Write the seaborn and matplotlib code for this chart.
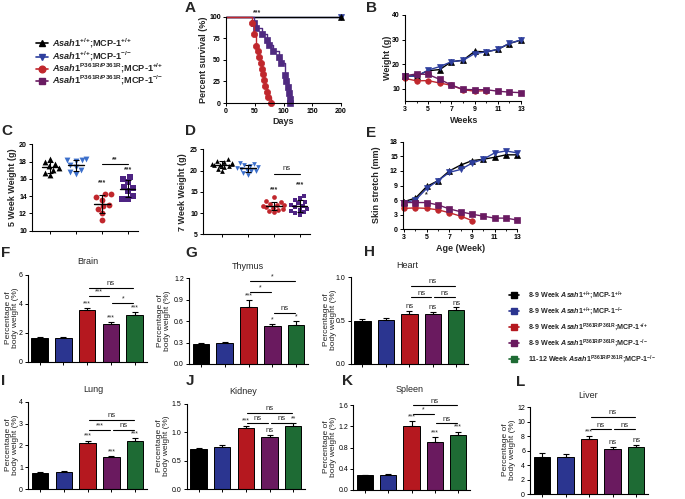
import numpy as np
import pandas as pd
import matplotlib
matplotlib.use("Agg")
import matplotlib.pyplot as plt
import seaborn as sns

# ---------------- data ----------------
# A: Kaplan-Meier survival (days, % survival)
surv_days_wt = [0, 200]
surv_wt = [100, 100]
surv_days_mut = [0, 46, 49, 53, 55, 58, 60, 62, 64, 66, 68, 71, 73, 78]
surv_mut = [100, 93.3, 80, 66.7, 60, 53.3, 46.7, 40, 33.3, 26.7, 20, 13.3, 6.7, 0]
surv_days_dko = [0, 48, 53, 62, 71, 75, 81, 93, 96, 102, 105, 107, 110, 111, 112]
surv_dko = [100, 93, 87, 80, 73, 67, 60, 53, 46, 33, 26, 19, 12, 5, 0]

# B: body weight (g) by week
weeks_B = [3, 4, 5, 6, 7, 8, 9, 10, 11, 12, 13]
wB_wt = [15.0, 15.3, 17.3, 17.8, 21.0, 21.6, 25.2, 25.0, 26.0, 28.4, 29.8]
wB_ko = [15.2, 15.0, 17.6, 19.0, 21.0, 21.5, 24.3, 25.0, 26.0, 28.5, 29.8]
weeks_B_mut = [3, 4, 5, 6, 7, 8, 9, 10]
wB_mut = [14.2, 13.2, 13.3, 12.3, 11.4, 9.6, 9.0, 9.2]
wB_dko = [15.3, 16.0, 15.8, 13.8, 11.5, 9.7, 9.6, 9.6, 9.0, 8.6, 8.4]

# E: skin stretch (mm) by week
weeks_E = [3, 4, 5, 6, 7, 8, 9, 10, 11, 12, 13]
sE_wt = [5.7, 6.4, 8.8, 10.0, 12.0, 13.2, 14.1, 14.4, 14.8, 15.3, 15.3]
sE_ko = [5.5, 6.0, 8.4, 10.0, 11.7, 12.3, 13.6, 14.4, 15.7, 16.1, 15.7]
weeks_E_mut = [3, 4, 5, 6, 7, 8, 9]
sE_mut = [4.3, 4.4, 4.3, 4.0, 3.4, 2.7, 1.8]
sE_dko = [5.5, 5.5, 5.5, 5.0, 4.2, 3.6, 3.1, 2.7, 2.3, 2.3, 1.9]

# C: 5-week weight (g) individual animals
c_wt = [18.3, 18.0, 17.7, 17.5, 17.2, 17.0, 16.7, 16.4]
c_ko = [18.3, 18.2, 18.2, 18.1, 17.6, 17.4, 17.0, 16.8, 16.6]
c_mut = [14.3, 14.2, 13.9, 13.6, 13.0, 12.9, 12.5, 12.0, 11.2]
c_dko = [16.2, 16.0, 15.6, 15.1, 14.9, 14.6, 14.0, 13.7, 13.7]

# D: 7-week weight (g) individual animals
d_wt = [22.8, 22.3, 22.0, 21.8, 21.6, 21.5, 21.4, 21.2, 21.0, 20.8, 20.4, 19.8]
d_ko = [21.8, 21.6, 21.2, 21.0, 20.8, 20.6, 20.4, 20.2, 20.0, 19.8, 19.4, 19.0]
d_mut = [13.8, 12.8, 12.5, 12.2, 12.0, 11.8, 11.7, 11.5, 11.3, 11.0, 10.8, 10.6, 10.2]
d_dko = [14.0, 13.6, 13.0, 12.6, 12.3, 12.0, 11.7, 11.4, 11.0, 10.8, 10.5, 10.2, 9.9, 9.6]

# F-L: organ weight as % of body weight (mean, SEM)
organ_groups = ["WT", "KO", "Mut", "DKO", "DKO 11-12"]
brain_mean = [1.65, 1.65, 3.55, 2.62, 3.25]
brain_sem = [0.07, 0.07, 0.18, 0.10, 0.18]
thymus_mean = [0.28, 0.29, 0.80, 0.53, 0.54]
thymus_sem = [0.02, 0.02, 0.09, 0.03, 0.06]
heart_mean = [0.50, 0.51, 0.57, 0.58, 0.62]
heart_sem = [0.02, 0.02, 0.04, 0.02, 0.03]
lung_mean = [0.75, 0.78, 2.10, 1.45, 2.22]
lung_sem = [0.05, 0.04, 0.12, 0.06, 0.12]
kidney_mean = [0.70, 0.74, 1.07, 0.91, 1.12]
kidney_sem = [0.03, 0.04, 0.05, 0.04, 0.04]
spleen_mean = [0.28, 0.29, 1.21, 0.90, 1.04]
spleen_sem = [0.01, 0.02, 0.08, 0.09, 0.06]
liver_mean = [5.2, 5.15, 7.65, 6.3, 6.5]
liver_sem = [0.5, 0.35, 0.35, 0.25, 0.35]

# significance labels above bars and brackets (i, j, label)
brain_stars = ["", "", "***", "***", "***"]
brain_brk = [(2, 4, "ns"), (2, 3, "***"), (3, 4, "*")]
thymus_stars = ["", "", "***", "*", "*"]
thymus_brk = [(2, 4, "*"), (2, 3, "*"), (3, 4, "ns")]
heart_stars = ["", "", "ns", "ns", "ns"]
heart_brk = [(2, 4, "ns"), (2, 3, "ns"), (3, 4, "ns")]
lung_stars = ["", "", "***", "***", "***"]
lung_brk = [(2, 4, "ns"), (2, 3, "***"), (3, 4, "ns")]
kidney_stars = ["", "", "***", "ns", "**"]
kidney_brk = [(2, 4, "ns"), (2, 3, "ns"), (3, 4, "ns")]
spleen_stars = ["", "", "***", "***", "***"]
spleen_brk = [(2, 4, "ns"), (2, 3, "*"), (3, 4, "ns")]
liver_stars = ["", "", "***", "ns", "ns"]
liver_brk = [(2, 4, "ns"), (2, 3, "ns"), (3, 4, "ns")]

# ---------------- style ----------------
sns.set_theme(style="ticks")
plt.rcParams.update({
    "font.family": ["Liberation Sans", "DejaVu Sans"],
    "mathtext.fontset": "custom",
    "mathtext.rm": "Liberation Sans:bold",
    "mathtext.it": "Liberation Sans:bold:italic",
    "mathtext.bf": "Liberation Sans:bold",
    "axes.linewidth": 0.8,
    "axes.edgecolor": "black",
    "xtick.color": "black",
    "ytick.color": "black",
})

W, H = 685, 499
fig = plt.figure(figsize=(W / 100, H / 100), dpi=100)
fig.patch.set_facecolor("white")

BLACK = "#000000"
L_BLUE = "#2E3F9E"
L_RED = "#C0272D"
L_PURPLE = "#6A1B62"
A_PURPLE = "#4F2A80"
S_BLUE = "#3C6FCB"
S_RED = "#C1272D"
S_PURPLE = "#4E2483"
BAR_COLORS = ["#000000", "#2B3590", "#B5181F", "#6A1A5F", "#1E6B34"]


def px_axes(x0, y0, x1, y1):
    return fig.add_axes([x0 / W, 1 - y1 / H, (x1 - x0) / W, (y1 - y0) / H])


lax = fig.add_axes([0, 0, 1, 1], zorder=20)
lax.set_xlim(0, W)
lax.set_ylim(H, 0)
lax.axis("off")
lax.patch.set_alpha(0)


def T(x, y, s, **kw):
    kw.setdefault("ha", "center")
    kw.setdefault("va", "center")
    lax.text(x, y, s, **kw)


def set_ticks(ax, xt, yt, xl=None, yl=None, bold=True, fs=5):
    wt = "bold" if bold else "normal"
    ax.set_xticks(xt, labels=(xl if xl is not None else [""] * len(xt)),
                  fontsize=fs, fontweight=wt)
    ax.set_yticks(yt, labels=(yl if yl is not None else [str(v) for v in yt]),
                  fontsize=fs, fontweight=wt)
    ax.tick_params(axis="both", which="major", length=2.5, width=0.7, pad=1.2)
    ax.tick_params(axis="both", which="minor", length=1.5, width=0.6)
    ax.set_xlabel("")
    ax.set_ylabel("")
    sns.despine(ax=ax)
    ax.set_facecolor("none")


def line(ax, x, y, color, marker, ms=4, **kw):
    sns.lineplot(x=x, y=y, color=color, lw=1, marker=marker, ms=ms,
                 mec=color, mew=0.5, ax=ax, estimator=None, clip_on=False, **kw)


# ---------------- A ----------------
axA = px_axes(226, 17, 341, 103)
line(axA, surv_days_wt, surv_wt, L_BLUE, "v", ms=4.5, markevery=[1])
line(axA, surv_days_wt, surv_wt, BLACK, "^", ms=4.5, markevery=[1])
line(axA, surv_days_dko, surv_dko, A_PURPLE, "s", ms=4.2,
     markevery=list(range(1, len(surv_days_dko))), drawstyle="steps-post")
line(axA, surv_days_mut, surv_mut, L_RED, "o", ms=4.5,
     markevery=list(range(1, len(surv_days_mut))), drawstyle="steps-post")
axA.set_xlim(0, 200)
axA.set_ylim(0, 100)
set_ticks(axA, [0, 50, 100, 150, 200], [0, 25, 50, 75, 100],
          xl=["0", "50", "100", "150", "200"])
axA.text(54, 100.5, "***", fontsize=5, fontweight="bold", ha="center", va="bottom")

# ---------------- B ----------------
axB = px_axes(405, 15, 521, 101)
line(axB, weeks_B, wB_wt, BLACK, "^")
line(axB, weeks_B, wB_ko, L_BLUE, "v")
line(axB, weeks_B_mut, wB_mut, L_RED, "o")
line(axB, weeks_B, wB_dko, L_PURPLE, "s", ms=3.8)
axB.set_xlim(3, 13)
axB.set_ylim(5, 40)
set_ticks(axB, [3, 5, 7, 9, 11, 13], [10, 20, 30, 40],
          xl=["3", "5", "7", "9", "11", "13"])
axB.set_xticks([4, 6, 8, 10, 12], minor=True)

# ---------------- E ----------------
axE = px_axes(403, 141.7, 517.3, 229.3)
line(axE, weeks_E, sE_wt, BLACK, "^")
line(axE, weeks_E, sE_ko, L_BLUE, "v")
line(axE, weeks_E_mut, sE_mut, L_RED, "o")
line(axE, weeks_E, sE_dko, L_PURPLE, "s", ms=3.8)
axE.set_xlim(2.9, 13)
axE.set_ylim(0, 18)
set_ticks(axE, [3, 5, 7, 9, 11, 13], [0, 3, 6, 9, 12, 15, 18],
          xl=["3", "5", "7", "9", "11", "13"])
axE.set_xticks([4, 6, 8, 10, 12], minor=True)
axE.text(5, 6.3, "*", fontsize=5, fontweight="bold", ha="center", va="bottom")


# ---------------- C & D scatter ----------------
def scatter_panel(ax, groups_vals, colors, markers, size):
    cats = ["a", "b", "c", "d"]
    for k, (vals, col, mk) in enumerate(zip(groups_vals, colors, markers)):
        df = pd.DataFrame({"g": [cats[k]] * len(vals), "v": vals})
        sns.swarmplot(data=df, x="g", y="v", order=cats, color=col, marker=mk,
                      size=size, ax=ax, linewidth=0, zorder=2)
        m = np.mean(vals)
        sd = np.std(vals, ddof=1)
        ax.plot([k - 0.3, k + 0.3], [m, m], color="black", lw=1, zorder=3)
        ax.errorbar([k], [m], yerr=[sd], fmt="none", ecolor="black",
                    elinewidth=0.8, capsize=2.2, capthick=0.8, zorder=3)


axC = px_axes(32, 144.3, 138, 230.7)
scatter_panel(axC, [c_wt, c_ko, c_mut, c_dko], [BLACK, S_BLUE, S_RED, S_PURPLE],
              ["^", "v", "o", "s"], 4.2)
axC.set_xlim(-0.7, 3.4)
axC.set_ylim(10, 20)
set_ticks(axC, [0, 1, 2, 3], [10, 12, 14, 16, 18, 20])
axC.text(2, 15.2, "***", fontsize=5, fontweight="bold", ha="center", va="bottom")
axC.text(3, 16.65, "***", fontsize=5, fontweight="bold", ha="center", va="bottom")
axC.plot([2, 3], [17.7, 17.7], color="black", lw=0.8)
axC.text(2.5, 17.8, "**", fontsize=5, fontweight="bold", ha="center", va="bottom")

axD = px_axes(203, 149.3, 310, 234.3)
scatter_panel(axD, [d_wt, d_ko, d_mut, d_dko], [BLACK, S_BLUE, S_RED, S_PURPLE],
              ["^", "v", "o", "s"], 3.4)
axD.set_xlim(-0.73, 3.4)
axD.set_ylim(5, 25)
set_ticks(axD, [0, 1, 2, 3], [5, 10, 15, 20, 25])
axD.text(2, 14.6, "***", fontsize=5, fontweight="bold", ha="center", va="bottom")
axD.text(3, 15.8, "***", fontsize=5, fontweight="bold", ha="center", va="bottom")
axD.plot([2, 3], [19.3, 19.3], color="black", lw=0.8)
axD.text(2.5, 19.6, "ns", fontsize=5.5, ha="center", va="bottom")


# ---------------- bar panels ----------------
def bar_panel(rect, means, sems, ylim, yticks, ylabels, stars, brackets, levels):
    ax = px_axes(*rect)
    df = pd.DataFrame({"g": organ_groups, "v": means})
    sns.barplot(data=df, x="g", y="v", hue="g", order=organ_groups,
                hue_order=organ_groups, palette=dict(zip(organ_groups, BAR_COLORS)),
                legend=False, width=0.7, edgecolor="black", linewidth=0.7,
                errorbar=None, saturation=1, ax=ax)
    x = np.arange(len(means))
    ax.errorbar(x, means, yerr=[np.zeros(len(sems)), sems], fmt="none",
                ecolor="black", elinewidth=0.8, capsize=2.2, capthick=0.8, zorder=5)
    ax.set_xlim(-0.5, 4.5)
    ax.set_ylim(*ylim)
    set_ticks(ax, list(x), yticks, yl=ylabels, bold=False, fs=5)
    for i, s in enumerate(stars):
        if s:
            ax.annotate(s, (i, means[i] + sems[i]), xytext=(0, 0.5),
                        textcoords="offset points", ha="center", va="bottom",
                        fontsize=5.5 if s == "ns" else 5, annotation_clip=False)
    for (i, j, s), yv in zip(brackets, levels):
        ax.plot([i + 0.06, j - 0.06], [yv, yv], color="black", lw=0.8, clip_on=False)
        ax.annotate(s, ((i + j) / 2, yv), xytext=(0, 0.3), textcoords="offset points",
                    ha="center", va="bottom", fontsize=5.5 if s == "ns" else 5,
                    annotation_clip=False)
    return ax


bar_panel((27.6, 274.5, 146.6, 362), brain_mean, brain_sem, (0, 6), [0, 2, 4, 6], None,
          brain_stars, brain_brk, [5.1, 4.55, 4.05])
bar_panel((189, 278.3, 308, 364), thymus_mean, thymus_sem, (0, 1.2),
          [0, 0.3, 0.6, 0.9, 1.2], ["0.0", "0.3", "0.6", "0.9", "1.2"],
          thymus_stars, thymus_brk, [1.16, 1.01, 0.72])
bar_panel((350.7, 277, 468, 364), heart_mean, heart_sem, (0, 1.0),
          [0, 0.5, 1.0], ["0.0", "0.5", "1.0"],
          heart_stars, heart_brk, [0.9, 0.77, 0.77])
bar_panel((28.2, 401.7, 147, 489), lung_mean, lung_sem, (0, 4), [0, 1, 2, 3, 4], None,
          lung_stars, lung_brk, [3.17, 2.72, 2.72])
bar_panel((186.7, 404, 305, 489), kidney_mean, kidney_sem, (0, 1.5),
          [0, 0.5, 1.0, 1.5], ["0.0", "0.5", "1.0", "1.5"],
          kidney_stars, kidney_brk, [1.35, 1.17, 1.17])
bar_panel((353.3, 405, 470, 490), spleen_mean, spleen_sem, (0, 1.6),
          [0, 0.4, 0.8, 1.2, 1.6], ["0.0", "0.4", "0.8", "1.2", "1.6"],
          spleen_stars, spleen_brk, [1.6, 1.43, 1.26])
bar_panel((530.2, 407.3, 648, 494.3), liver_mean, liver_sem, (0, 12),
          [0, 2, 4, 6, 8, 10, 12], None,
          liver_stars, liver_brk, [10.7, 9.0, 9.0])

# ---------------- axis labels / titles ----------------
bk = dict(fontsize=6.5, fontweight="bold")
T(204, 60, "Percent survival (%)", rotation=90, **bk)
T(283, 121, "Days", **bk)
T(388, 58, "Weight (g)", rotation=90, **bk)
T(464, 120, "Weeks", **bk)
T(12.5, 187, "5 Week Weight (g)", rotation=90, **bk)
T(183, 192, "7 Week Weight (g)", rotation=90, **bk)
T(377, 185, "Skin stretch (mm)", rotation=90, **bk)
T(461, 248, "Age (Week)", **bk)

pl = dict(fontsize=6)
ylab = "Percentage of\nbody weight (%)"
for (x, y) in [(12, 318), (164, 321), (330, 320), (12, 445), (163, 446), (330, 447), (509, 450)]:
    T(x, y, ylab, rotation=90, linespacing=1.1, **pl)

for (x, y, s) in [(88, 261.7, "Brain"), (248, 266.7, "Thymus"), (407, 265, "Heart"),
                  (93, 390, "Lung"), (243, 391.7, "Kidney"), (410, 390, "Spleen"),
                  (588, 395, "Liver")]:
    T(x, y, s, fontsize=6.5)

for (x, y, s) in [(185, 8, "A"), (366, 8, "B"), (1, 131, "C"), (185, 131, "D"),
                  (366, 133, "E"), (1, 253, "F"), (185, 253, "G"), (364, 252, "H"),
                  (1, 381, "I"), (186, 381, "J"), (342, 381, "K"), (516, 382, "L")]:
    T(x, y, s, fontsize=11, fontweight="bold", ha="left")

# ---------------- legends ----------------
top_labels = [r"$\mathit{Asah1}^{+/{+}}$;MCP-1$^{+/{+}}$",
              r"$\mathit{Asah1}^{+/{+}}$;MCP-1$^{-/{-}}$",
              r"$\mathit{Asah1}^{\mathrm{P361R/P361R}}$;MCP-1$^{+/{+}}$",
              r"$\mathit{Asah1}^{\mathrm{P361R/P361R}}$;MCP-1$^{-/{-}}$"]
top_cols = [BLACK, L_BLUE, L_RED, L_PURPLE]
top_marks = ["^", "v", "o", "s"]
for k, (lab, col, mk) in enumerate(zip(top_labels, top_cols, top_marks)):
    y = [43.3, 56.7, 68.7, 80.7][k]
    lax.plot([36, 48], [y, y], color=col, lw=1.2)
    lax.plot([42], [y], marker=mk, color=col, ms=4.8, mec=col)
    T(52, y, lab, fontsize=6.6, fontweight="bold", ha="left")

bot_labels = ["8-9 Week " + r"$\mathit{Asah1}^{+/{+}}$;MCP-1$^{+/{+}}$",
              "8-9 Week " + r"$\mathit{Asah1}^{+/{+}}$;MCP-1$^{-/{-}}$",
              "8-9 Week " + r"$\mathit{Asah1}^{\mathrm{P361R/P361R}}$;MCP-1$^{+/{+}}$",
              "8-9 Week " + r"$\mathit{Asah1}^{\mathrm{P361R/P361R}}$;MCP-1$^{-/{-}}$",
              "11-12 Week " + r"$\mathit{Asah1}^{\mathrm{P361R/P361R}}$;MCP-1$^{-/{-}}$"]
for k, (lab, col) in enumerate(zip(bot_labels, BAR_COLORS)):
    y = [295, 311, 327, 343, 359][k]
    lax.plot([509, 519], [y, y], color=col, lw=1.2)
    lax.plot([514], [y], marker="s", color=col, ms=4, mec=col)
    T(528, y, lab, fontsize=5.1, fontweight="bold", ha="left")

fig.savefig("out.png", dpi=100, facecolor="white")
